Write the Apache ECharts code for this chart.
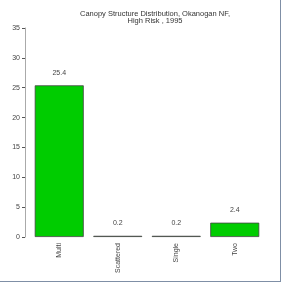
<!DOCTYPE html>
<html><head><meta charset="utf-8">
<script src="https://cdn.jsdelivr.net/npm/echarts@6/dist/echarts.min.js"></script>
<style>html,body{margin:0;padding:0;background:#fff}#c{width:283px;height:283px}</style>
</head><body><div id="c"></div>
<script>
const categories = ['Multi', 'Scattered', 'Single', 'Two'];
const values = [25.4, 0.2, 0.2, 2.4];
const yTicks = [0, 5, 10, 15, 20, 25, 30, 35];
const chart = echarts.init(document.getElementById('c'));
chart.setOption({
  animation: false,
  backgroundColor: '#fff',
  title: {
    text: 'Canopy Structure Distribution, Okanogan NF,\nHigh Risk , 1995',
    left: 150, top: 5, textAlign: 'center',
    textStyle: {fontFamily: 'Liberation Sans', fontSize: 7.5, fontWeight: 'normal', color: '#333', lineHeight: 7.5}
  },
  grid: {left: 30, right: 19, top: 28, bottom: 46, containLabel: false, outerBoundsMode: 'none'},
  xAxis: {
    type: 'category', data: categories,
    axisLine: {show: false}, axisTick: {show: false},
    axisLabel: {rotate: 90, fontSize: 7, color: '#444', fontFamily: 'Liberation Sans', margin: 6}
  },
  yAxis: {
    type: 'value', min: 0, max: 35, interval: 5, offset: 5,
    name: 'Percent of Subset', nameLocation: 'middle', nameGap: 18, nameRotate: 90,
    nameTextStyle: {fontSize: 7, color: '#444', fontFamily: 'Liberation Sans'},
    axisLine: {show: true, lineStyle: {color: '#aaa', width: 1}},
    axisTick: {show: true, length: 3, lineStyle: {color: '#555'}},
    axisLabel: {fontSize: 7, color: '#444', fontFamily: 'Liberation Sans', margin: 5,
      formatter: v => yTicks.includes(v) ? String(v) : ''},
    splitLine: {show: false}
  },
  series: [{
    type: 'bar', data: values, barWidth: 49,
    itemStyle: {color: '#00cc00', borderColor: '#444', borderWidth: 0.8},
    label: {show: true, position: 'top', distance: 9, fontSize: 7, color: '#444', fontFamily: 'Liberation Sans'}
  }],
  graphic: [
    {type: 'line', shape: {x1: 280.5, y1: 0, x2: 280.5, y2: 281.5}, style: {stroke: '#7f8fa6', lineWidth: 1}},
    {type: 'line', shape: {x1: 0, y1: 281.5, x2: 281, y2: 281.5}, style: {stroke: '#7f8fa6', lineWidth: 1}}
  ]
});
</script></body></html>
